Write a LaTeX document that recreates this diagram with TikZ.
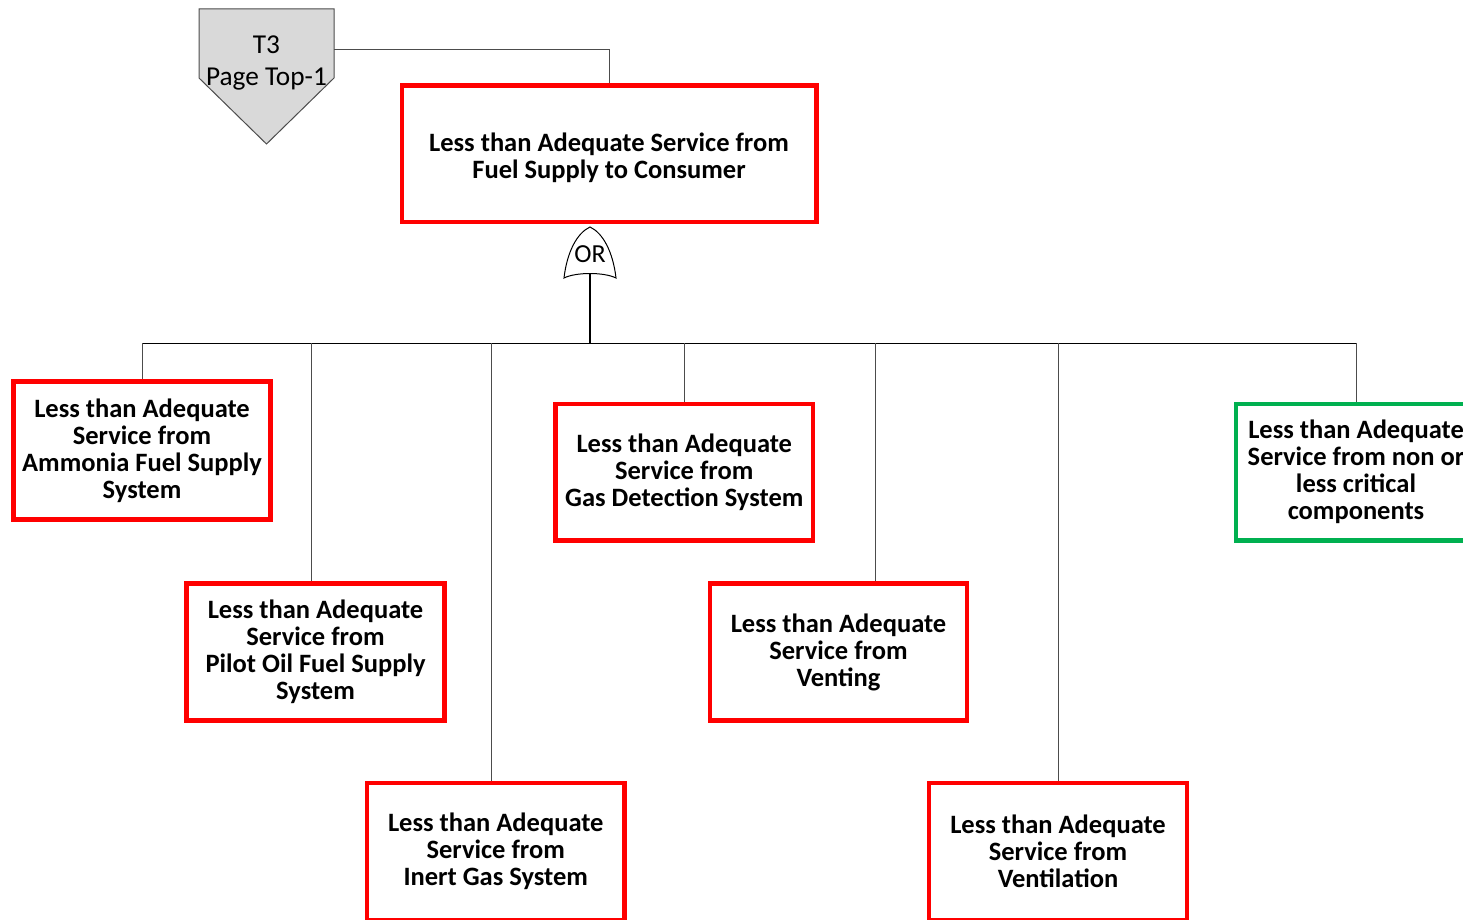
\documentclass[tikz,border=0pt]{standalone}
\usepackage{fontspec}
\setmainfont{Carlito}
\definecolor{evtred}{HTML}{FF0000}
\definecolor{evtgreen}{HTML}{00B050}
\definecolor{gategray}{HTML}{D9D9D9}
\tikzset{
 evt/.style={draw=evtred, line width=4.5pt, fill=white, align=center, inner sep=0pt,
  font=\bfseries\fontsize{26.5}{27}\selectfont},
 evtok/.style={evt, draw=evtgreen},
 wire/.style={draw=black!70, line width=1pt},
}
\begin{document}
\begin{tikzpicture}[x=1pt,y=-1pt]
 \useasboundingbox (0,0) rectangle (1463,920);
 \clip (0,0) rectangle (1463,920);
 % transfer symbol
 \draw[fill=gategray, draw=black!70, line width=1pt]
  (199,9) -- (334,9) -- (334,78) -- (266.5,144) -- (199,78) -- cycle;
 \node[align=center, font=\fontsize{27.3}{32}\selectfont] (trtxt) at (266.5,63) {T3\\Page Top-1};
 \coordinate (tr) at (334,50);
 % top event
 \node[evt, minimum width=414.5, minimum height=136.5] (top) at (609,153.75)
  {\rule{0pt}{26pt}Less than Adequate Service from\\Fuel Supply to Consumer};
 \draw[wire] (tr) -| (top.north);
 % OR gate
 \coordinate (orin) at (590,274);
 \draw[fill=white, line width=1pt] (564,278) .. controls (567,252) and (577,233) .. (590,227)
  .. controls (603,233) and (613,252) .. (616,278)
  .. controls (604,272) and (576,272) .. (564,278) -- cycle;
 \node[font=\fontsize{26}{27}\selectfont, inner sep=0pt] (or) at (590,254) {OR};
 \coordinate (busL) at (142,343.3);
 \coordinate (busR) at (1356,343.3);
 \draw[line width=2pt] (orin) -- (orin |- busL);
 \draw[line width=1.3pt] (busL) -- (busR);
 % basic events
 \node[evt, minimum width=257, minimum height=138] (amm) at (142,450.5)
  {Less than Adequate\\Service from\\Ammonia Fuel Supply\\System};
 \node[evt, minimum width=258, minimum height=137] (pilot) at (315.5,652)
  {Less than Adequate\\Service from\\Pilot Oil Fuel Supply\\System};
 \node[evt, minimum width=257.5, minimum height=137] (inert) at (495.75,851.5)
  {Less than Adequate\\Service from\\Inert Gas System};
 \node[evt, minimum width=257.5, minimum height=136.5] (gasdet) at (684.25,472.25)
  {Less than Adequate\\Service from\\Gas Detection System};
 \node[evt, minimum width=257, minimum height=137] (vent) at (838.5,652)
  {Less than Adequate\\Service from\\Venting};
 \node[evt, minimum width=258, minimum height=137] (ventil) at (1058,851.5)
  {Less than Adequate\\Service from\\Ventilation};
 \node[evtok, minimum width=240, minimum height=136.5] (noncrit) at (1356,472.25)
  {Less than Adequate\\Service from non or\\less critical\\components};
 % drops from the bus
 \foreach \n/\s in {amm/0,pilot/-4,inert/-4,gasdet/0,vent/36.5,ventil/0,noncrit/0}
  \draw[wire] ([xshift=\s]\n.north) -- ([xshift=\s]\n.north |- busL);
\end{tikzpicture}
\end{document}
